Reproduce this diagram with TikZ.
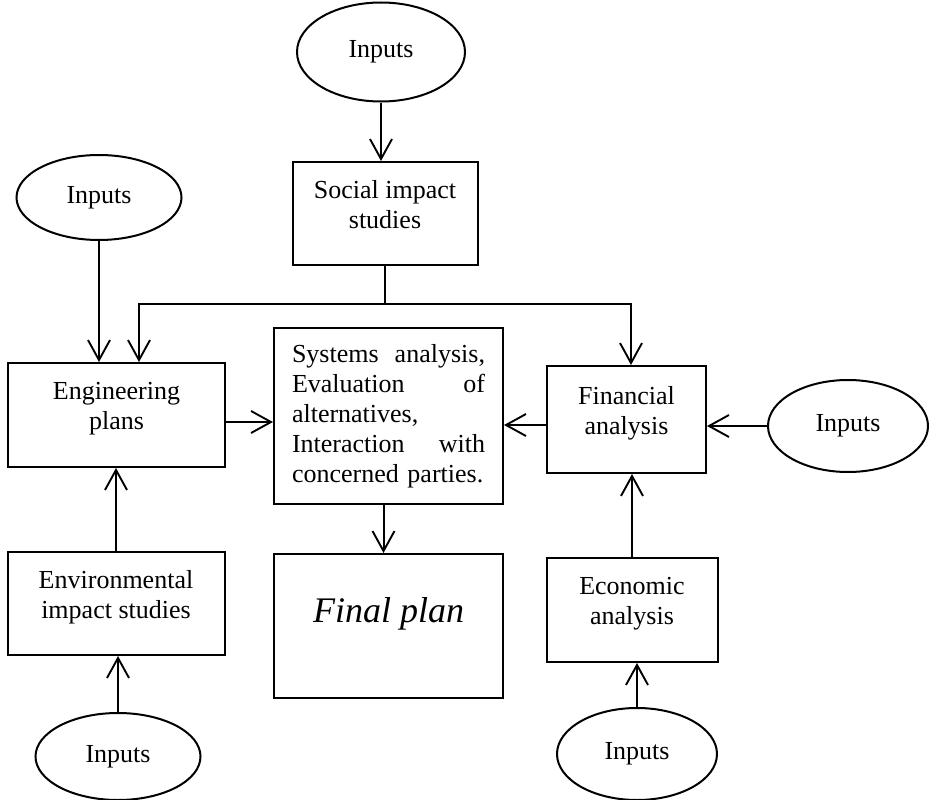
\documentclass[tikz,border=0pt]{standalone}
\usepackage{fontspec}
\setmainfont{Liberation Serif}
\usetikzlibrary{arrows.meta,shapes.geometric}
\begin{document}
\begin{tikzpicture}[x=1pt,y=-1pt,
  every node/.style={font=\fontsize{26}{30}\selectfont},
  plainbox/.style={draw, line width=2pt, inner sep=0pt},
  boxnode/.style={plainbox, align=center, text depth=18pt},
  inputnode/.style={draw, ellipse, line width=2pt, inner sep=0pt},
  conn/.style={line width=2pt},
  arr/.style={conn, -{Straight Barb[length=20pt,width=22pt,line width=1.9pt]}}
]
\useasboundingbox (0,0) rectangle (929,800);

% input ellipses
\node[inputnode, minimum width=168pt, minimum height=99pt] (intop) at (381,52) {Inputs};
\node[inputnode, minimum width=165pt, minimum height=85pt] (inleft) at (99,197.5) {Inputs};
\node[inputnode, minimum width=160pt, minimum height=92pt] (inright) at (848,426) {Inputs};
\node[inputnode, minimum width=165pt, minimum height=87pt] (inbl) at (118,756.5) {Inputs};
\node[inputnode, minimum width=160pt, minimum height=92pt] (inbr) at (637,754) {Inputs};

% boxes
\node[boxnode, minimum width=185pt, minimum height=103pt] (social) at (385,213.5) {Social impact\\studies};
\node[boxnode, minimum width=217pt, minimum height=104pt] (eng) at (116.5,415) {Engineering\\plans};
\node[plainbox, minimum width=229pt, minimum height=176pt, text width=193pt, align=left] (center) at (388.5,416)
  {\hyphenpenalty=10000 Systems\hfill analysis,\\Evaluation\hfill of\\alternatives,\\Interaction\hfill with\\\mbox{concerned parties.}};
\node[boxnode, minimum width=159pt, minimum height=107pt] (fin) at (626.5,419.5) {Financial\\analysis};
\node[boxnode, minimum width=217pt, minimum height=103pt] (env) at (116,603.5) {Environmental\\impact studies};
\node[plainbox, minimum width=229pt, minimum height=144pt, font=\fontsize{36}{40}\selectfont\itshape, text height=25pt, text depth=33pt] (final) at (388.5,626) {Final plan};
\node[boxnode, minimum width=171pt, minimum height=104pt] (econ) at (632,610) {Economic\\analysis};

% junction coordinates
\coordinate (jl) at (139,304);
\coordinate (jr) at (631,304);

% connectors
\draw[arr] (intop.south) -- (intop.south |- social.north);
\draw[conn] (social.south) -- (social.south |- jl);
\draw[arr] (social.south |- jl) -- (jl) -- (jl |- eng.north);
\draw[arr] (social.south |- jr) -- (jr) -- (jr |- fin.north);
\draw[arr] (inleft.south) -- (inleft.south |- eng.north);
\draw[arr] (eng.east |- 0,422) -- (center.west |- 0,422);
\draw[arr] (fin.west |- 0,425) -- (center.east |- 0,425);
\draw[arr] (inright.west) -- (inright.west -| fin.east);
\draw[arr] (env.north) -- (env.north |- eng.south);
\draw[arr] (inbl.north) -- (inbl.north |- env.south);
\draw[arr] ([xshift=-5pt]center.south) -- ([xshift=-5pt]final.north);
\draw[arr] (econ.north) -- (econ.north |- fin.south);
\draw[arr] (inbr.north) -- (inbr.north |- econ.south);
\end{tikzpicture}
\end{document}
